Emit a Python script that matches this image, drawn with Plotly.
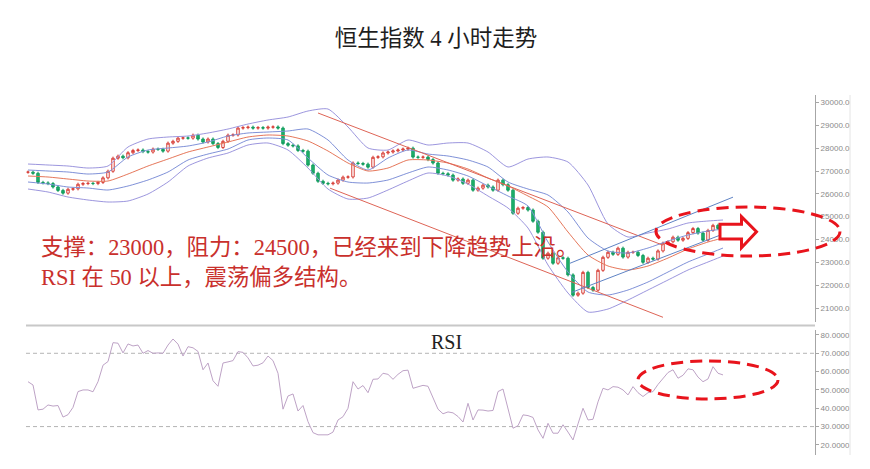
import plotly.graph_objects as go

# ---------------- data ----------------
closes = [
    26950, 26900, 26500, 26480, 26450, 26300, 26150, 26030, 26200, 26220,
    26420, 26450, 26460, 26450, 26500, 26700, 26990, 27560, 27650, 27580,
    27800, 27900, 27920, 27850, 27830, 27960, 27950, 27870, 28220, 28300,
    28440, 28450, 28440, 28570, 28400, 28270, 28400, 28200, 28030, 28300,
    28570, 28580, 28880, 28900, 28920, 28880, 28900, 28880, 28920, 28930,
    28880, 28200, 28130, 28100, 27900, 27870, 27260, 26900, 26550, 26460,
    26440, 26470, 26600, 26730, 26740, 27350, 27330, 27300, 27170, 27600,
    27620, 27790, 27830, 27880, 27920, 27960, 28000, 27610, 27600, 27610,
    27500, 27350, 26900, 26880, 26820, 26600, 26650, 26460, 26600, 26160,
    26250, 26380, 26300, 26160, 26600, 26400, 26160, 25150, 25370, 25400,
    25290, 24800, 24320, 23180, 23400, 22960, 23200, 23180, 22450, 21560,
    21650, 22560, 21900, 21780, 22650, 23220, 23440, 23350, 23620, 23230,
    23440, 23440, 23300, 23000, 23180, 23140, 23500, 23840, 23900, 24100,
    23970, 24050, 24300, 24480, 24280, 23970, 24400, 24620, 24480, 24400,
]

rsi = [
    54.5, 52.7, 39.1, 39.5, 41.8, 41.2, 41.5, 35.2, 36.5, 40.5,
    49.1, 50.0, 50.0, 49.0, 54.5, 63.5, 65.5, 75.8, 75.5, 70.2,
    75.1, 74.0, 74.5, 70.0, 71.5, 70.0, 70.2, 70.0, 74.5, 77.8,
    75.0, 68.5, 73.6, 73.0, 71.0, 61.0, 64.7, 55.0, 52.0, 64.7,
    65.3, 66.0, 70.9, 70.5, 67.5, 63.1, 63.5, 64.8, 68.5, 66.0,
    59.1, 39.5, 46.7, 47.8, 38.5, 41.5, 32.7, 26.7, 25.5, 25.5,
    25.5, 27.0, 33.6, 35.4, 40.0, 54.5, 50.5, 52.4, 48.5, 55.8,
    56.0, 59.1, 58.5, 55.8, 58.5, 60.5, 60.8, 50.9, 51.5, 52.5,
    52.0, 45.5, 39.5, 37.0, 38.0, 37.5, 35.5, 32.5, 42.7, 33.6,
    39.1, 39.0, 38.5, 38.8, 49.1, 50.5, 40.0, 29.1, 30.5, 36.4,
    36.0, 35.0, 28.2, 23.6, 31.8, 26.4, 26.4, 31.0, 27.0, 22.7,
    31.5, 40.0, 33.6, 34.0, 43.5, 50.9, 50.0, 51.8, 51.5, 50.0,
    47.3, 51.8, 48.5, 46.4, 48.5, 49.1, 53.0, 56.4, 59.5, 61.0,
    56.4, 58.0, 61.5, 61.0, 57.0, 54.5, 56.0, 62.7, 59.1, 58.2,
]

band_idx = [0, 4, 8, 12, 16, 20, 24, 28, 32, 36, 40, 44, 48, 52, 56, 60, 64, 68,
            72, 76, 80, 84, 88, 92, 96, 100, 104, 108, 112, 116, 120, 124, 128,
            132, 136, 139]
band_upper2 = [27306, 27263, 27219, 27131, 27219, 28051, 28401, 28489, 28533, 28664,
               28839, 29058, 29234, 29365, 29628, 29715, 28927, 28007, 27920, 28358,
               28139, 28226, 28226, 27832, 27175, 27525, 27613, 27394, 26387, 24678,
               24109, 24284, 24459, 24722, 24810, 24854]
band_upper1 = [27044, 27000, 26956, 26868, 26956, 27613, 27920, 28007, 28095, 28270,
               28533, 28664, 28708, 28752, 28839, 28358, 27482, 27044, 27569, 27920,
               27744, 27657, 27482, 27175, 26518, 26211, 25949, 25204, 24065, 23496,
               23408, 23627, 23934, 24197, 24372, 24459]
band_mid = [26781, 26737, 26649, 26562, 26562, 26868, 27219, 27525, 27832, 28051,
            28270, 28489, 28577, 28533, 28314, 27876, 27350, 27000, 27131, 27482,
            27482, 27350, 27087, 26693, 26343, 25905, 25423, 24328, 23321, 22839,
            22664, 22839, 23189, 23583, 23890, 24065]
band_lower1 = [26518, 26430, 26299, 26255, 26168, 26343, 26606, 26956, 27482, 27744,
               27963, 28358, 28445, 28358, 27569, 26825, 26518, 26474, 26606, 26912,
               27175, 27044, 26781, 26343, 25905, 25467, 23890, 22576, 21700, 21569,
               21788, 22138, 22576, 23014, 23364, 23627]
band_lower2 = [26211, 26080, 25861, 25730, 25642, 25686, 25992, 26518, 27219, 27569,
               27788, 28139, 28226, 27920, 27131, 26211, 25773, 25817, 26168, 26562,
               26912, 26781, 26430, 25905, 25379, 24503, 22883, 21656, 20824, 20955,
               21350, 21788, 22226, 22664, 23014, 23277]

# trend lines: [start index, end index], [start price, end price]
red_upper_x, red_upper_y = [58, 127], [29540, 23750]
red_lower_x, red_lower_y = [60.4, 127], [26250, 20592]
blue_upper_x, blue_upper_y = [108.4, 141], [22960, 25855]
blue_lower_x, blue_lower_y = [108.8, 141], [21689, 24408]

price_ticks = list(range(21000, 30001, 1000))
rsi_ticks = [20, 30, 40, 50, 60, 70, 80]
rsi_levels = [70, 30]

title_text = "恒生指数 4 小时走势"
note_line1 = "支撑：23000，阻力：24500，已经来到下降趋势上沿。"
note_line2 = "RSI 在 50 以上，震荡偏多结构。"

# ---------------- styling / layout constants ----------------
# the page body keeps its default 8px margin, so the figure is 8px smaller
OFF = 8
W, H = 870 - OFF, 469 - OFF
PL, PR, PT, PB = 26, 815, 95, 455          # plot-area edges in reference pixels
PW, PH = PR - PL, PB - PT
ML, MT = PL - OFF, PT - OFF
MR, MB = W - (PR - OFF), H - (PB - OFF)
XR = [-0.4, 157.4]
Y1R = [20386, 30329]
Y1D = [0.3694, 1.0]
Y2R = [14.5, 82.7]
Y2D = [0.0, 0.3472]
WICK = 70

N = len(closes)
idx = list(range(N))
opens = [closes[0]] + closes[:-1]
highs = [max(o, c) + WICK for o, c in zip(opens, closes)]
lows = [min(o, c) - WICK for o, c in zip(opens, closes)]


def xp(i):
    return (i - XR[0]) / (XR[1] - XR[0])


def yp1(v):
    return Y1D[0] + (v - Y1R[0]) / (Y1R[1] - Y1R[0]) * (Y1D[1] - Y1D[0])


def yp2(v):
    return Y2D[0] + (v - Y2R[0]) / (Y2R[1] - Y2R[0]) * (Y2D[1] - Y2D[0])


def px_x(px):
    return (px - PL) / PW


def px_y(py):
    return (PB - py) / PH


fig = go.Figure()

band_specs = [
    (band_upper2, "#9c96de"),
    (band_upper1, "#7f91d8"),
    (band_mid, "#e6775a"),
    (band_lower1, "#7f91d8"),
    (band_lower2, "#9c96de"),
]
for vals, col in band_specs:
    fig.add_trace(go.Scatter(x=band_idx, y=vals, mode="lines",
                             line=dict(color=col, width=1, shape="spline", smoothing=0.6),
                             hoverinfo="skip"))

for xs, ys, col in [(red_upper_x, red_upper_y, "#de6456"),
                    (red_lower_x, red_lower_y, "#de6456"),
                    (blue_upper_x, blue_upper_y, "#5f83c4"),
                    (blue_lower_x, blue_lower_y, "#5f83c4")]:
    fig.add_trace(go.Scatter(x=xs, y=ys, mode="lines",
                             line=dict(color=col, width=1), hoverinfo="skip"))

fig.add_trace(go.Candlestick(
    x=idx, open=opens, high=highs, low=lows, close=closes,
    increasing=dict(line=dict(color="#d8413a", width=1), fillcolor="white"),
    decreasing=dict(line=dict(color="#139c5e", width=1), fillcolor="#1fb36c"),
    whiskerwidth=0, hoverinfo="skip"))

fig.add_trace(go.Scatter(x=idx, y=rsi, mode="lines", yaxis="y2",
                         line=dict(color="#bea3c6", width=1), hoverinfo="skip"))

axis_common = dict(side="right", showgrid=False, zeroline=False, showline=True,
                   linecolor="#a6a6a6", linewidth=1, ticks="outside", ticklen=3,
                   tickcolor="#a6a6a6",
                   tickfont=dict(family="Liberation Sans, Arial", size=8, color="#8a8a8a"))

fig.update_layout(
    width=W, height=H,
    margin=dict(l=ML, r=MR, t=MT, b=MB, autoexpand=False),
    paper_bgcolor="white", plot_bgcolor="white",
    showlegend=False,
    xaxis=dict(range=XR, visible=False, rangeslider=dict(visible=False), domain=[0, 1]),
    yaxis=dict(domain=Y1D, range=Y1R, tickvals=price_ticks, tickformat=".2f", **axis_common),
    yaxis2=dict(domain=Y2D, range=Y2R, anchor="x", tickvals=rsi_ticks, tickformat=".4f",
                **axis_common),
    title=dict(text=title_text, x=(436 - OFF) / W, xref="container", xanchor="center",
               y=1 - (38 - OFF) / H, yref="container", yanchor="middle",
               font=dict(family="Liberation Serif, Noto Sans CJK SC", size=22.5, color="#1e1e1e")),
)

note_font = dict(family="Liberation Serif, Noto Sans CJK SC", size=22.4, color="#c9302c")
fig.add_annotation(text=note_line1, xref="paper", yref="paper", x=px_x(39),
                   y=px_y(247), xanchor="left", yanchor="middle",
                   showarrow=False, font=note_font)
fig.add_annotation(text=note_line2, xref="paper", yref="paper", x=px_x(39),
                   y=px_y(277), xanchor="left", yanchor="middle",
                   showarrow=False, font=note_font)
fig.add_annotation(text="RSI", xref="paper", yref="paper", x=px_x(446),
                   y=px_y(342), xanchor="center", yanchor="middle",
                   showarrow=False,
                   font=dict(family="Liberation Serif, Noto Sans CJK SC", size=20, color="#222"))

shapes = []
# RSI reference levels
for lv in rsi_levels:
    shapes.append(dict(type="line", xref="paper", yref="y2", x0=0, x1=1, y0=lv, y1=lv,
                       line=dict(color="#b4b4b4", width=1, dash="4px,3px"), layer="below"))
# separator between panels
shapes.append(dict(type="line", xref="paper", yref="paper", x0=0, x1=1,
                   y0=px_y(325.5), y1=px_y(325.5),
                   line=dict(color="#c8c8c8", width=2)))
# right border clipping tick labels
shapes.append(dict(type="rect", xref="paper", yref="paper", x0=px_x(850),
                   x1=px_x(880), y0=-0.05, y1=1.05, fillcolor="white",
                   line=dict(width=0), layer="above"))
shapes.append(dict(type="line", xref="paper", yref="paper", x0=px_x(850),
                   x1=px_x(850), y0=0, y1=1,
                   line=dict(color="#e4e4e4", width=1), layer="above"))

red = "#e8141c"
# main ellipse
shapes.append(dict(type="circle", xref="paper", yref="paper",
                   x0=xp(125.6), x1=xp(162.4), y0=yp1(23277), y1=yp1(25423),
                   line=dict(color=red, width=3, dash="12px,7px"), layer="above"))
# RSI ellipse
shapes.append(dict(type="circle", xref="paper", yref="paper",
                   x0=xp(122.0), x1=xp(150.0), y0=yp2(45.1), y1=yp2(65.8),
                   line=dict(color=red, width=3, dash="12px,7px"), layer="above"))
# hollow arrow
arrow_pts = [(138.4, 24665), (142.7, 24665), (142.7, 25000), (145.7, 24340),
             (142.7, 23640), (142.7, 24021), (138.4, 24021)]
path = "M " + " L ".join(f"{xp(a):.5f},{yp1(b):.5f}" for a, b in arrow_pts) + " Z"
shapes.append(dict(type="path", xref="paper", yref="paper", path=path,
                   fillcolor="white", line=dict(color=red, width=3), layer="above"))

fig.update_layout(shapes=shapes)

fig.write_html("out.html")
